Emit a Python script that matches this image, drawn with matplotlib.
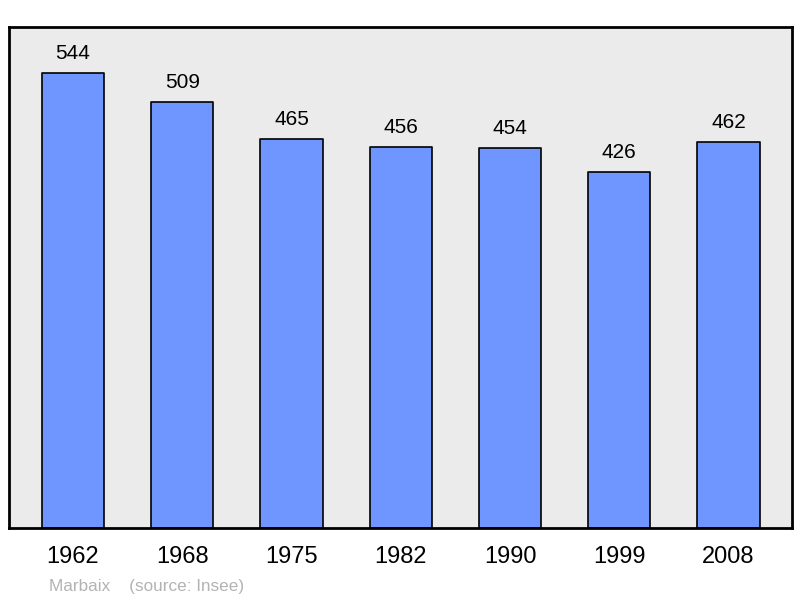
import matplotlib
matplotlib.use("Agg")
import matplotlib.pyplot as plt

plt.rcParams['font.family'] = ['Liberation Sans', 'DejaVu Sans']

years = ["1962", "1968", "1975", "1982", "1990", "1999", "2008"]
population = [544, 509, 465, 456, 454, 426, 462]

fig = plt.figure(figsize=(8, 5.98), dpi=100)
ax = fig.add_axes([0.01125, 0.117, 0.97875, 0.838])
ax.set_facecolor("#ebebeb")

x = range(len(years))
ax.bar(x, population, width=0.57, color="#6f96ff", edgecolor="black",
       linewidth=1.2, joinstyle="round")

for i, v in zip(x, population):
    ax.annotate(str(v), (i, v), xytext=(0, 7), textcoords="offset points",
                ha="center", va="bottom", fontsize=15)

ax.set_xlim(-0.585, 6.58)
ax.set_ylim(0, 599)
ax.set_xticks(list(x))
ax.set_xticklabels(years, fontsize=17)
ax.tick_params(axis="x", length=0, pad=13)
ax.set_yticks([])
for s in ax.spines.values():
    s.set_linewidth(2)

fig.text(0.061, 0.012, "Marbaix    (source: Insee)", color="#b3b3b3", fontsize=12.3)

fig.savefig("out.png", dpi=100)
